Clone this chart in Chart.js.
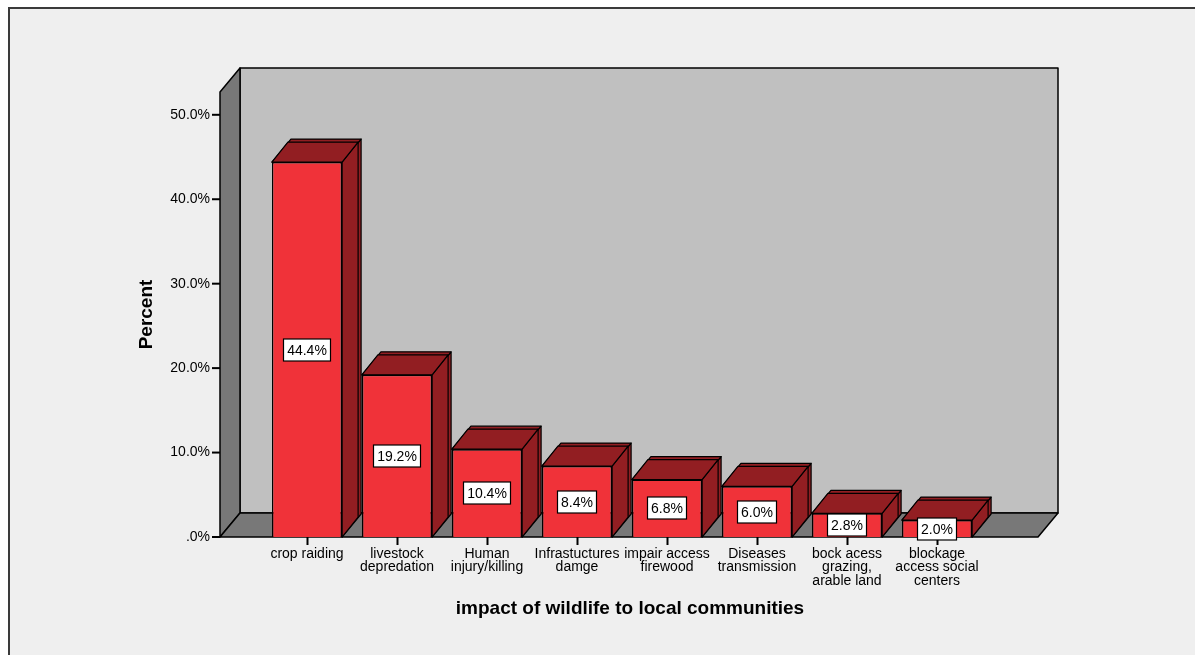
<!DOCTYPE html>
<html lang="en">
<head>
    <meta charset="UTF-8">
    <title>impact of wildlife to local communities</title>
    <script src="https://cdn.jsdelivr.net/npm/chart.js"></script>
    <style>
        html, body {
            margin: 0;
            padding: 0;
            background: #fff;
        }
        .chart-container {
            width: 1195px;
            height: 655px;
            position: relative;
        }
    </style>
</head>
<body>
    <div class="chart-container">
        <canvas id="impactChart"></canvas>
    </div>

    <script>
        // Datos
        const categories = [
            'crop raiding',
            ['livestock', 'depredation'],
            ['Human', 'injury/killing'],
            ['Infrastuctures', 'damge'],
            ['impair access', 'firewood'],
            ['Diseases', 'transmission'],
            ['bock acess', 'grazing,', 'arable land'],
            ['blockage', 'access social', 'centers']
        ];
        const percents = [44.4, 19.2, 10.4, 8.4, 6.8, 6.0, 2.8, 2.0];
        const yTicks = [0, 10, 20, 30, 40, 50];
        const yTickLabels = ['.0%', '10.0%', '20.0%', '30.0%', '40.0%', '50.0%'];
        const xTitle = 'impact of wildlife to local communities';
        const yTitle = 'Percent';

        const FONT = '"Liberation Sans", Arial, sans-serif';
        const wallDepth = { dx: 20, dy: -24 };
        const barDepths = [{ dx: 19, dy: -23 }, { dx: 16, dy: -20 }];

        function poly(ctx, pts, fill) {
            ctx.beginPath();
            ctx.moveTo(pts[0][0], pts[0][1]);
            for (let i = 1; i < pts.length; i++) ctx.lineTo(pts[i][0], pts[i][1]);
            ctx.closePath();
            ctx.fillStyle = fill;
            ctx.fill();
            ctx.stroke();
        }

        // Plugin para el efecto 3D estilo SPSS
        const spss3d = {
            id: 'spss3d',
            beforeDraw(chart) {
                const { ctx, chartArea: a, scales: { y } } = chart;
                const fl = a.left - 42, fr = a.right + 56;
                const base = y.getPixelForValue(0), top = y.getPixelForValue(y.max);
                const dx = wallDepth.dx, dy = wallDepth.dy;
                ctx.save();
                ctx.fillStyle = '#efefef';
                ctx.fillRect(9, 8, chart.width, chart.height);
                ctx.strokeStyle = '#3a3a3a';
                ctx.lineWidth = 2;
                ctx.strokeRect(9, 8, chart.width, chart.height);

                ctx.strokeStyle = '#000';
                ctx.lineWidth = 1.5;
                ctx.lineJoin = 'round';
                poly(ctx, [[fl + dx, top + dy], [fr + dx, top + dy], [fr + dx, base + dy], [fl + dx, base + dy]], '#c0c0c0');
                poly(ctx, [[fl, top], [fl + dx, top + dy], [fl + dx, base + dy], [fl, base]], '#787878');
                poly(ctx, [[fl, base], [fl + dx, base + dy], [fr + dx, base + dy], [fr, base]], '#787878');

                // eje Y
                ctx.lineWidth = 2;
                ctx.fillStyle = '#000';
                ctx.font = '14px ' + FONT;
                ctx.textAlign = 'right';
                ctx.textBaseline = 'middle';
                yTicks.forEach((v, i) => {
                    const py = y.getPixelForValue(v);
                    ctx.beginPath();
                    ctx.moveTo(fl - 8, py);
                    ctx.lineTo(fl, py);
                    ctx.stroke();
                    ctx.fillText(yTickLabels[i], fl - 10, py);
                });

                // titulos
                ctx.font = 'bold 19px ' + FONT;
                ctx.textAlign = 'center';
                ctx.fillText(xTitle, (fl + fr) / 2 + 1, 609);
                ctx.save();
                ctx.translate(147, (a.top + base) / 2);
                ctx.rotate(-Math.PI / 2);
                ctx.font = 'bold 19px ' + FONT;
                ctx.fillText(yTitle, 0, 0);
                ctx.restore();
                ctx.restore();
            },
            beforeDatasetsDraw(chart) {
                const ctx = chart.ctx;
                ctx.save();
                ctx.strokeStyle = '#000';
                ctx.lineWidth = 1.2;
                ctx.lineJoin = 'round';
                chart.getDatasetMeta(0).data.forEach(bar => {
                    const { x, y, base, width } = bar.getProps(['x', 'y', 'base', 'width'], true);
                    const x0 = x - width / 2, x1 = x + width / 2;
                    barDepths.forEach(d => {
                        poly(ctx, [[x1, y], [x1 + d.dx, y + d.dy], [x1 + d.dx, base + d.dy], [x1, base]], '#921e22');
                        poly(ctx, [[x0, y], [x0 + d.dx, y + d.dy], [x1 + d.dx, y + d.dy], [x1, y]], '#921e22');
                    });
                });
                ctx.restore();
            },
            afterDatasetsDraw(chart) {
                const ctx = chart.ctx;
                ctx.save();
                ctx.font = '14px ' + FONT;
                ctx.textAlign = 'center';
                ctx.textBaseline = 'middle';
                ctx.lineWidth = 1.2;
                ctx.strokeStyle = '#000';
                chart.getDatasetMeta(0).data.forEach((bar, i) => {
                    const { x, y, base } = bar.getProps(['x', 'y', 'base'], true);
                    const txt = percents[i].toFixed(1) + '%';
                    const w = Math.round(ctx.measureText(txt).width + 7), h = 22;
                    const cy = Math.round((y + base) / 2);
                    ctx.fillStyle = '#fff';
                    ctx.fillRect(x - w / 2, cy - h / 2, w, h);
                    ctx.strokeRect(x - w / 2, cy - h / 2, w, h);
                    ctx.fillStyle = '#000';
                    ctx.fillText(txt, x, cy + 1);
                });
                ctx.restore();
            }
        };

        const ctx = document.getElementById('impactChart').getContext('2d');
        const chart = new Chart(ctx, {
            type: 'bar',
            data: {
                labels: categories,
                datasets: [{
                    data: percents,
                    backgroundColor: '#f03239',
                    borderColor: '#000',
                    borderWidth: 1.5,
                    barPercentage: 0.78,
                    categoryPercentage: 1
                }]
            },
            options: {
                responsive: true,
                maintainAspectRatio: false,
                animation: false,
                layout: { padding: { left: 262, right: 213, top: 92, bottom: 0 } },
                plugins: {
                    legend: { display: false },
                    tooltip: { enabled: false }
                },
                scales: {
                    x: {
                        offset: true,
                        grid: {
                            offset: false,
                            drawOnChartArea: false,
                            tickLength: 8,
                            tickWidth: 2,
                            tickColor: '#000'
                        },
                        border: { display: false },
                        ticks: {
                            color: '#000',
                            autoSkip: false,
                            maxRotation: 0,
                            padding: 2,
                            font: { family: FONT, size: 14, lineHeight: 0.97 }
                        },
                        afterFit(scale) {
                            scale.height = 118;
                        }
                    },
                    y: {
                        display: false,
                        min: 0,
                        max: 52.7
                    }
                }
            },
            plugins: [spss3d]
        });
    </script>
</body>
</html>
